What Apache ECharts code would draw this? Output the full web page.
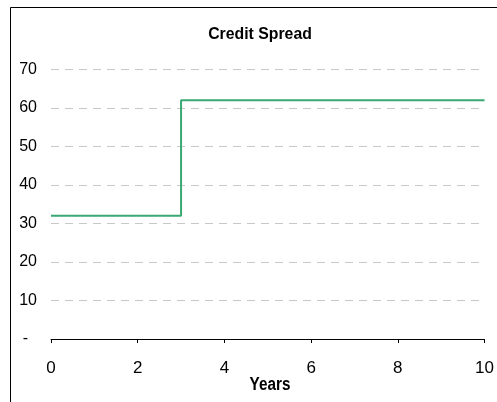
<!DOCTYPE html>
<html>
<head>
<meta charset="utf-8">
<script src="https://cdn.jsdelivr.net/npm/echarts@6/dist/echarts.min.js"></script>
<style>
html,body{margin:0;padding:0;background:#fff;overflow:hidden;}
#c{width:497px;height:402px;}
</style>
</head>
<body>
<div id="c"></div>
<script>
var years = [0, 3, 10];
var spread = [32, 62, 62];
var xTicks = [0, 2, 4, 6, 8, 10];
var yTicks = [0, 10, 20, 30, 40, 50, 60, 70];

var chart = echarts.init(document.getElementById('c'), null, {renderer: 'canvas', width: 497, height: 402});
chart.setOption({
  backgroundColor: '#fff',
  animation: false,
  graphic: [
    {type: 'polyline', shape: {points: [[10.5, 402], [10.5, 7.5], [497, 7.5]]}, style: {stroke: '#000', lineWidth: 1, fill: null}},
    {type: 'text', x: 260, y: 34, scaleX: 0.93, style: {text: 'Credit Spread', x: 0, y: 0, align: 'center', verticalAlign: 'middle',
      font: 'bold 17px "Liberation Sans", Arial, sans-serif', fill: '#000'}},
    {type: 'text', x: 270, y: 385, scaleX: 0.85, style: {text: 'Years', x: 0, y: 0, align: 'center', verticalAlign: 'middle',
      font: 'bold 18px "Liberation Sans", Arial, sans-serif', fill: '#000'}}
  ],
  grid: {left: 51, right: 8, top: 69.5, bottom: 63},
  xAxis: {
    type: 'value', min: 0, max: 10, interval: 2,
    axisLine: {show: true, lineStyle: {color: '#000', width: 1}},
    axisTick: {show: true, length: 4, lineStyle: {color: '#000'}},
    axisLabel: {fontFamily: 'Liberation Sans, Arial, sans-serif', fontSize: 17, color: '#000', margin: 21,
      formatter: function (v) { return xTicks.indexOf(v) >= 0 ? String(v) : ''; }},
    splitLine: {show: false}
  },
  yAxis: {
    type: 'value', min: 0, max: 70, interval: 10,
    axisLine: {show: false},
    axisTick: {show: false},
    axisLabel: {fontFamily: 'Liberation Sans, Arial, sans-serif', fontSize: 16, color: '#000', margin: 14,
      formatter: function (v) { return v === 0 ? '-  ' : (yTicks.indexOf(v) >= 0 ? String(v) : ''); }},
    splitLine: {show: true, lineStyle: {color: '#c8c8c8', type: [8, 6], width: 1}}
  },
  series: [{
    type: 'line', step: 'end', symbol: 'none',
    data: years.map(function (x, i) { return [x, spread[i]]; }),
    lineStyle: {color: '#3aa873', width: 2}
  }]
});
</script>
</body>
</html>
